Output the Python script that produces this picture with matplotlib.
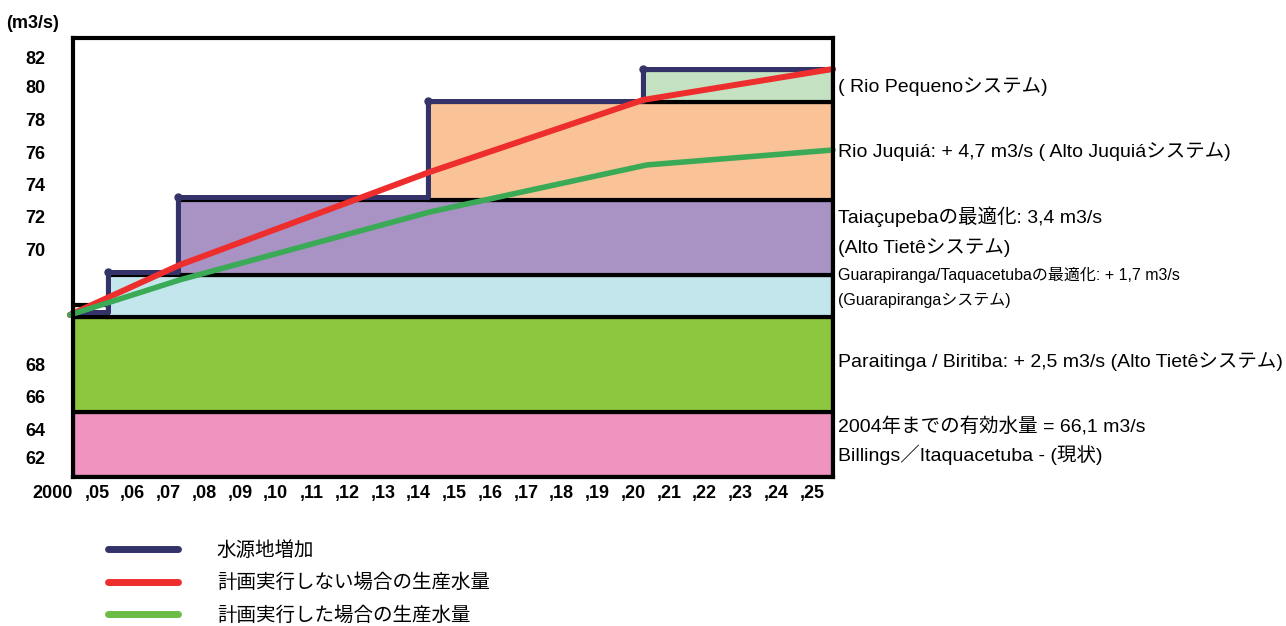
import numpy as np
import matplotlib
matplotlib.use('Agg')
import matplotlib.pyplot as plt
from matplotlib import font_manager
from matplotlib.lines import Line2D
from matplotlib.patches import Rectangle

available = {f.name for f in font_manager.fontManager.ttflist}
LATIN = 'Liberation Sans Narrow' if 'Liberation Sans Narrow' in available else 'Liberation Sans'
plt.rcParams['font.family'] = ['Liberation Sans', 'Noto Sans CJK JP', 'DejaVu Sans']
TEXT_FAMILY = [LATIN, 'Noto Sans CJK JP', 'DejaVu Sans']

# ---------------- data ----------------
y_tick_values = [62, 64, 66, 68, 70, 72, 74, 76, 78, 80, 82]
x_tick_years = list(range(2005, 2026))
x_tick_labels = [',%02d' % (y % 100) for y in x_tick_years]
first_year = 2003.77
first_year_label = '2000'
y_unit_label = '(m3/s)'

band_colors = ['#F093BE', '#8DC63F', '#FFFFFF', '#C2E6EB', '#A893C4', '#F9C397', '#C4E2C2']
band_start = [2004.33, 2004.33, 2004.33, 2005.31, 2007.27, 2014.26, 2020.27]
band_end = [2025.59, 2025.59, 2005.31, 2025.59, 2025.59, 2025.59, 2025.59]
band_bottom = [60.73, 65.10, 68.83, 68.83, 69.57, 73.06, 79.09]
band_top = [65.10, 68.83, 69.04, 69.57, 73.06, 79.09, 81.17]

step_years = [2004.30, 2005.31, 2007.27, 2014.26, 2020.27, 2025.59]
step_values = [68.92, 69.62, 73.25, 79.15, 81.24, 81.24]

red_years = [2004.24, 2007.32, 2014.31, 2020.27, 2025.59]
red_values = [68.87, 69.74, 74.81, 79.21, 81.24]

green_years = [2004.24, 2007.32, 2014.31, 2020.38, 2025.59]
green_values = [68.87, 69.48, 72.31, 75.25, 76.18]

legend_labels = ['水源地増加', '計画実行しない場合の生産水量', '計画実行した場合の生産水量']

right_labels = [
    ('( Rio Pequenoシステム)', 87, 14),
    ('Rio Juquiá: + 4,7 m3/s ( Alto Juquiáシステム)', 152, 14),
    ('Taiaçupebaの最適化: 3,4 m3/s', 217, 14),
    ('(Alto Tietêシステム)', 248, 14),
    ('Guarapiranga/Taquacetubaの最適化: + 1,7 m3/s', 275, 11.5),
    ('(Guarapirangaシステム)', 300, 11.5),
    ('Paraitinga / Biritiba: + 2,5 m3/s (Alto Tietêシステム)', 362, 14),
    ('2004年までの有効水量 = 66,1 m3/s', 427, 14),
    ('Billings／Itaquacetuba - (現状)', 455, 14),
]

# ---------------- layout ----------------
W, H = 1286, 626
TICK_PIX = [458, 430, 397, 365, 250, 217, 185, 153, 120, 87, 58]
knot_vals = np.array([50] + y_tick_values + [95], dtype=float)
knot_pos = np.array([-(458 + 12 * 15)] + [-p for p in TICK_PIX] + [-(58 - 13 * 15)], dtype=float)


def forward(v):
    return np.interp(np.asarray(v, dtype=float), knot_vals, knot_pos)


def inverse(p):
    return np.interp(np.asarray(p, dtype=float), knot_pos, knot_vals)


fig = plt.figure(figsize=(W / 100, H / 100), dpi=100)
ax = fig.add_axes([73 / W, 149 / H, 760 / W, 439 / H])
ax.set_yscale('function', functions=(forward, inverse))
ax.set_xlim(2004.33, 2025.59)
ax.set_ylim(60.73, 83.33)

for c, x0, x1, b, t in zip(band_colors, band_start, band_end, band_bottom, band_top):
    ax.add_patch(Rectangle((x0, b), x1 - x0, t - b, facecolor=c, edgecolor='black',
                           linewidth=3, zorder=1))

navy = '#33336A'
red = '#EE2D2D'
green = '#3BAA57'
ax.step(step_years, step_values, where='post', color=navy, lw=3.6,
        solid_capstyle='round', solid_joinstyle='round', marker='o', ms=5,
        markevery=[1, 2, 3, 4], zorder=3, clip_on=False)
ax.plot(red_years, red_values, color=red, lw=4.3, solid_capstyle='round',
        zorder=4, clip_on=False)
ax.plot(green_years, green_values, color=green, lw=4.0, solid_capstyle='round',
        zorder=4, clip_on=False)

for s in ax.spines.values():
    s.set_linewidth(3)
    s.set_zorder(5)

ax.set_yticks(y_tick_values)
ax.set_yticklabels([str(v) for v in y_tick_values])
ax.set_xticks(x_tick_years)
ax.set_xticklabels(x_tick_labels)
ax.tick_params(axis='y', length=0, pad=20, labelsize=13)
ax.tick_params(axis='x', length=0, pad=6, labelsize=13)
ax.yaxis.set_minor_locator(matplotlib.ticker.NullLocator())
for lab in ax.get_xticklabels() + ax.get_yticklabels():
    lab.set_fontweight('bold')

ax.annotate(first_year_label, xy=(first_year, 0), xycoords=('data', 'axes fraction'),
            xytext=(0, -6), textcoords='offset points', ha='center', va='top',
            fontsize=13, fontweight='bold', annotation_clip=False)
fig.text(33 / W, 1 - 24 / H, y_unit_label, ha='center', va='center',
         fontsize=13, fontweight='bold')

for txt, yc, fs in right_labels:
    fig.text(838 / W, 1 - yc / H, txt, ha='left', va='center', fontsize=fs,
             family=TEXT_FAMILY)

handles = [Line2D([0], [0], color=navy, lw=5, solid_capstyle='round'),
           Line2D([0], [0], color=red, lw=5, solid_capstyle='round'),
           Line2D([0], [0], color='#6CBD45', lw=5, solid_capstyle='round')]
leg = fig.legend(handles, legend_labels, loc='upper left',
                 bbox_to_anchor=(108 / W, 1 - 541 / H), frameon=False,
                 prop={'family': TEXT_FAMILY, 'size': 14}, handlelength=3.6,
                 handletextpad=2.0, labelspacing=0.72, borderpad=0, borderaxespad=0)

fig.savefig('out.png', dpi=100)
